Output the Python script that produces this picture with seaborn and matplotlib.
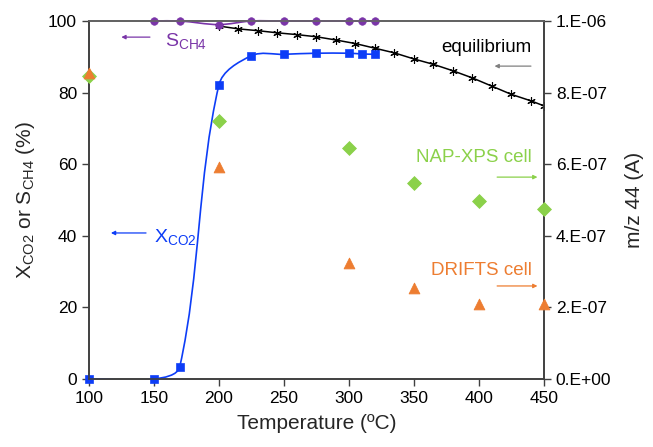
import numpy as np
import seaborn as sns
import matplotlib.pyplot as plt
from matplotlib.path import Path
from matplotlib.patches import PathPatch
from matplotlib.ticker import FuncFormatter

# Data
x_co2_temp = [100, 150, 170, 200, 225, 250, 275, 300, 310, 320]
x_co2 = [0, 0, 3.5, 82.1, 90.3, 90.7, 91.0, 91.0, 90.8, 90.7]

s_ch4_temp = [150, 170, 200, 225, 250, 275, 300, 310, 320]
s_ch4 = [100, 100, 99.0, 100, 100, 100, 100, 100, 100]

eq_temp = [200, 215, 230, 245, 260, 275, 290, 305, 320, 335, 350, 365, 380, 395, 410, 425, 440, 450]
eq_conv = [98.6, 97.8, 97.3, 96.7, 96.2, 95.6, 94.7, 93.7, 92.4, 91.1, 89.4, 87.9, 86.1, 84.1, 81.8, 79.5, 77.7, 76.3]

ms_temp = [100, 200, 300, 350, 400, 450]
nap_xps = [8.46e-7, 7.21e-7, 6.46e-7, 5.47e-7, 4.97e-7, 4.74e-7]
drifts = [8.56e-7, 5.93e-7, 3.25e-7, 2.55e-7, 2.09e-7, 2.09e-7]

c_blue = "#0d3df7"
c_purple = "#7a35a8"
c_green = "#8bd14a"
c_orange = "#ed7d31"
c_axis = "#404040"

sns.set_style("ticks")
plt.rcParams['font.family'] = ['Liberation Sans', 'DejaVu Sans']


def smooth_path(ax, xs, ys, t=1 / 3):
    # Excel-like smoothed line: cubic Bezier segments built in screen space,
    # tangent along neighbour chord, handle length a fraction of segment length
    pts = ax.transData.transform(np.column_stack([xs, ys]).astype(float))
    n = len(pts)
    dirs = []
    for i in range(n):
        a = pts[max(i - 1, 0)]
        b = pts[min(i + 1, n - 1)]
        d = b - a
        dirs.append(d / np.hypot(*d))
    verts = [pts[0]]
    codes = [Path.MOVETO]
    for i in range(n - 1):
        seg = np.hypot(*(pts[i + 1] - pts[i]))
        verts += [pts[i] + dirs[i] * seg * t, pts[i + 1] - dirs[i + 1] * seg * t, pts[i + 1]]
        codes += [Path.CURVE4] * 3
    verts = ax.transData.inverted().transform(np.array(verts))
    return Path(verts, codes)


fig = plt.figure(figsize=(6.53, 4.47), dpi=100)
ax = fig.add_axes([0.136, 0.152, 0.697, 0.801])
ax2 = ax.twinx()

ax.set_xlim(100, 450)
ax.set_ylim(0, 100)
ax2.set_ylim(0, 1e-6)

# left axis: conversion / selectivity
ax.add_patch(PathPatch(smooth_path(ax, x_co2_temp, x_co2), fill=False, edgecolor=c_blue, lw=1.2, zorder=3))
sns.scatterplot(x=x_co2_temp, y=x_co2, ax=ax, marker="s", s=36, color=c_blue, edgecolor=c_blue, zorder=4, clip_on=False)

ax.add_patch(PathPatch(smooth_path(ax, s_ch4_temp, s_ch4), fill=False, edgecolor=c_purple, lw=1.2, zorder=3, clip_on=False))
sns.scatterplot(x=s_ch4_temp, y=s_ch4, ax=ax, marker="o", s=30, color=c_purple, edgecolor=c_purple, zorder=5, clip_on=False)

ax.plot(eq_temp, eq_conv, color="black", lw=1.1, marker=(6, 2, 0), ms=6, mew=0.8, zorder=3)

# right axis: m/z 44 signal
sns.scatterplot(x=ms_temp, y=nap_xps, ax=ax2, marker="D", s=50, color=c_green, edgecolor=c_green, zorder=4, clip_on=False)
sns.scatterplot(x=ms_temp, y=drifts, ax=ax2, marker="^", s=60, color=c_orange, edgecolor=c_orange, zorder=4, clip_on=False)

ax.set_xlim(100, 450)
ax.set_ylim(0, 100)
ax2.set_ylim(0, 1e-6)
ax.set_xticks(range(100, 451, 50))
ax.set_yticks(range(0, 101, 20))
ax2.set_yticks(np.arange(0, 1.01e-6, 2e-7))
ax2.yaxis.set_major_formatter(FuncFormatter(lambda v, p: ("%.0E" % v).replace("E", ".E") if v else "0.E+00"))

for a in (ax, ax2):
    for sp in a.spines.values():
        sp.set_color(c_axis)
        sp.set_linewidth(1.2)
    a.tick_params(colors=c_axis, labelcolor="black", labelsize=12.5, length=5, width=1)
ax2.spines["top"].set_color("#666666")

ax.set_xlabel("Temperature (ºC)", fontsize=15, labelpad=6)
ax.set_ylabel("X$_{\\mathregular{CO2}}$ or S$_{\\mathregular{CH4}}$ (%)", fontsize=15, labelpad=8)
ax2.set_ylabel("m/z 44 (A)", fontsize=15, labelpad=10)

# in-plot labels with arrows
arrow = dict(arrowstyle="-|>", lw=0.9, mutation_scale=6, shrinkA=0, shrinkB=0)
ax.text(158.5, 94.1, "S$_{\\mathregular{CH4}}$", color=c_purple, fontsize=14, va="center")
ax.annotate("", xy=(125, 95.5), xytext=(147, 95.5), arrowprops=dict(arrow, color=c_purple))
ax.text(150, 39.4, "X$_{\\mathregular{CO2}}$", color=c_blue, fontsize=14, va="center")
ax.annotate("", xy=(117, 40.8), xytext=(144, 40.8), arrowprops=dict(arrow, color=c_blue))
ax.text(440.5, 92.7, "equilibrium", color="black", fontsize=13.5, va="center", ha="right")
ax.annotate("", xy=(412, 87.4), xytext=(440, 87.4), arrowprops=dict(arrow, color="#808080"))
ax.text(440.8, 62, "NAP-XPS cell", color=c_green, fontsize=13.5, va="center", ha="right")
ax.annotate("", xy=(445, 56.4), xytext=(414, 56.4), arrowprops=dict(arrow, color=c_green))
ax.text(440.8, 30.4, "DRIFTS cell", color=c_orange, fontsize=13.5, va="center", ha="right")
ax.annotate("", xy=(445, 26), xytext=(414, 26), arrowprops=dict(arrow, color=c_orange))

plt.savefig("out.png", dpi=100)
